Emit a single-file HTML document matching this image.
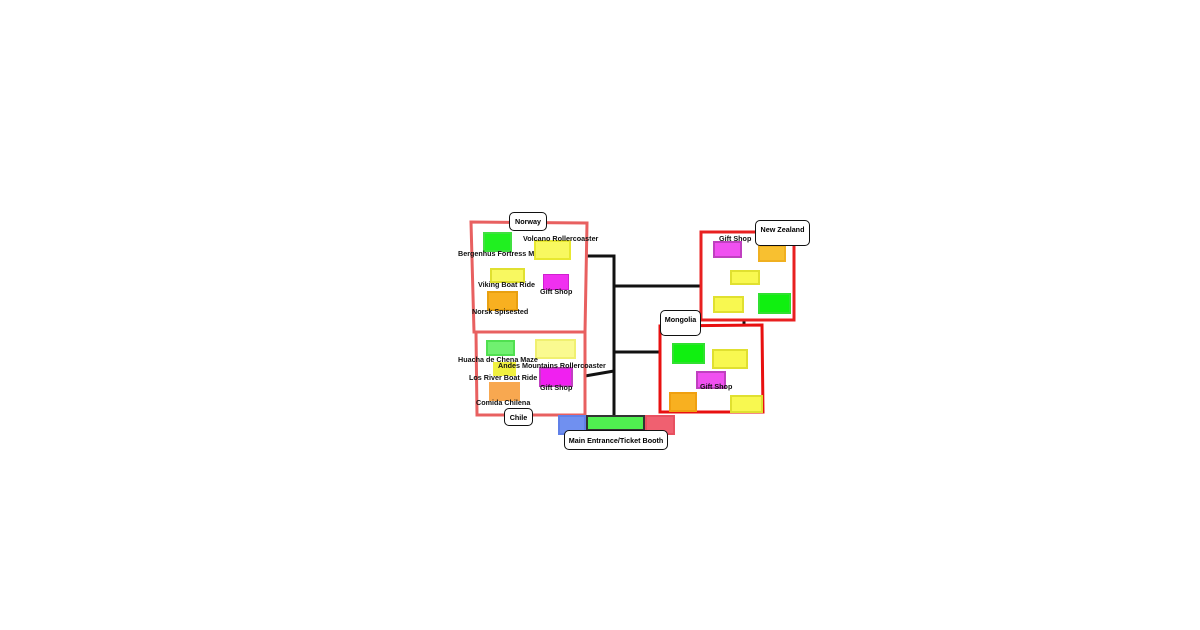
<!DOCTYPE html><html><head><style>
body{margin:0;width:1200px;height:630px;background:#fff;position:relative;overflow:hidden;font-family:"Liberation Sans",sans-serif}
div{position:absolute;box-sizing:border-box}
.t{font-size:7.2px;font-weight:bold;color:#111;white-space:nowrap}
.l{background:#fff;border:1.3px solid #111;border-radius:5px;font-size:7.2px;font-weight:bold;white-space:nowrap;display:flex;align-items:center;justify-content:center}
</style></head><body>
<svg width="1200" height="630" style="position:absolute;left:0;top:0">
<g stroke="#111" stroke-width="3" fill="none">
<polyline points="586,256 614,256 614,416"/>
<line x1="614" y1="286" x2="701" y2="286"/>
<line x1="614" y1="352" x2="660" y2="352"/>
<line x1="585" y1="376" x2="614" y2="371"/>
<line x1="744" y1="320" x2="744" y2="326"/>
</g>
<g fill="none" stroke-width="3">
<polygon points="471,222 587,223 585,332 474,332" stroke="#e86060"/>
<polygon points="476,332 585,332 585,415 477,415" stroke="#e86060"/>
<rect x="701" y="232" width="93" height="88" stroke="#e82020"/>
<polygon points="660,326 762,325 763,412 660,412" stroke="#e81010"/>
</g>
</svg>
<div style="left:483px;top:232px;width:29px;height:20px;background:#20f020;border:2px solid #40e040"></div>
<div style="left:534px;top:240px;width:37px;height:20px;background:#f8f860;border:2px solid #e8e830"></div>
<div style="left:490px;top:268px;width:35px;height:15px;background:#f8f860;border:2px solid #e0e030"></div>
<div style="left:543px;top:274px;width:26px;height:16px;background:#f030f0;border:1px solid #d020d0"></div>
<div style="left:487px;top:291px;width:31px;height:20px;background:#f8b020;border:2px solid #e8a010"></div>
<div style="left:486px;top:340px;width:29px;height:16px;background:#70f070;border:2px solid #50e050"></div>
<div style="left:535px;top:339px;width:41px;height:20px;background:#fafa90;border:2px solid #f0f070"></div>
<div style="left:493px;top:362px;width:23px;height:14px;background:#f0f040"></div>
<div style="left:539px;top:367px;width:34px;height:20px;background:#f020f0;border:2px solid #c040c0"></div>
<div style="left:489px;top:382px;width:31px;height:19px;background:#f8a850"></div>
<div style="left:713px;top:241px;width:29px;height:17px;background:#f050f0;border:2px solid #c040c0"></div>
<div style="left:758px;top:245px;width:28px;height:17px;background:#f8c030;border:2px solid #f0b020"></div>
<div style="left:730px;top:270px;width:30px;height:15px;background:#f8f850;border:2px solid #e0e030"></div>
<div style="left:713px;top:296px;width:31px;height:17px;background:#f8f850;border:2px solid #e0e030"></div>
<div style="left:758px;top:293px;width:33px;height:21px;background:#10f010;border:2px solid #30e030"></div>
<div style="left:672px;top:343px;width:33px;height:21px;background:#10f010;border:2px solid #30e030"></div>
<div style="left:712px;top:349px;width:36px;height:20px;background:#f8f850;border:2px solid #e0e030"></div>
<div style="left:696px;top:371px;width:30px;height:18px;background:#f050f0;border:2px solid #c040c0"></div>
<div style="left:669px;top:392px;width:28px;height:20px;background:#f8b020;border:2px solid #f0a010"></div>
<div style="left:730px;top:395px;width:33px;height:18px;background:#f8f850;border:2px solid #e0e030"></div>
<div style="left:558px;top:415px;width:28px;height:20px;background:#7090f0;border:2px solid #6080e8"></div>
<div style="left:586px;top:415px;width:59px;height:16px;background:#50f050;border:2px solid #333"></div>
<div style="left:645px;top:415px;width:30px;height:20px;background:#f06070;border:2px solid #e85060"></div>
<div class="t" style="left:523px;top:234px">Volcano Rollercoaster</div>
<div class="t" style="left:458px;top:249px">Bergenhus Fortress M</div>
<div class="t" style="left:478px;top:280px">Viking Boat Ride</div>
<div class="t" style="left:540px;top:287px">Gift Shop</div>
<div class="t" style="left:472px;top:307px">Norsk Spisested</div>
<div class="t" style="left:458px;top:355px">Huacha de Chena Maze</div>
<div class="t" style="left:498px;top:361px">Andes Mountains Rollercoaster</div>
<div class="t" style="left:469px;top:373px">Los River Boat Ride</div>
<div class="t" style="left:540px;top:383px">Gift Shop</div>
<div class="t" style="left:476px;top:398px">Comida Chilena</div>
<div class="t" style="left:719px;top:234px">Gift Shop</div>
<div class="t" style="left:700px;top:382px">Gift Shop</div>
<div class="l" style="left:509px;top:212px;width:38px;height:19px">Norway</div>
<div class="l" style="left:504px;top:408px;width:29px;height:18px">Chile</div>
<div class="l" style="left:755px;top:220px;width:55px;height:26px;align-items:flex-start;padding-top:4px">New Zealand</div>
<div class="l" style="left:660px;top:310px;width:41px;height:26px;align-items:flex-start;padding-top:4px">Mongolia</div>
<div class="l" style="left:564px;top:430px;width:104px;height:20px">Main Entrance/Ticket Booth</div>
</body></html>
